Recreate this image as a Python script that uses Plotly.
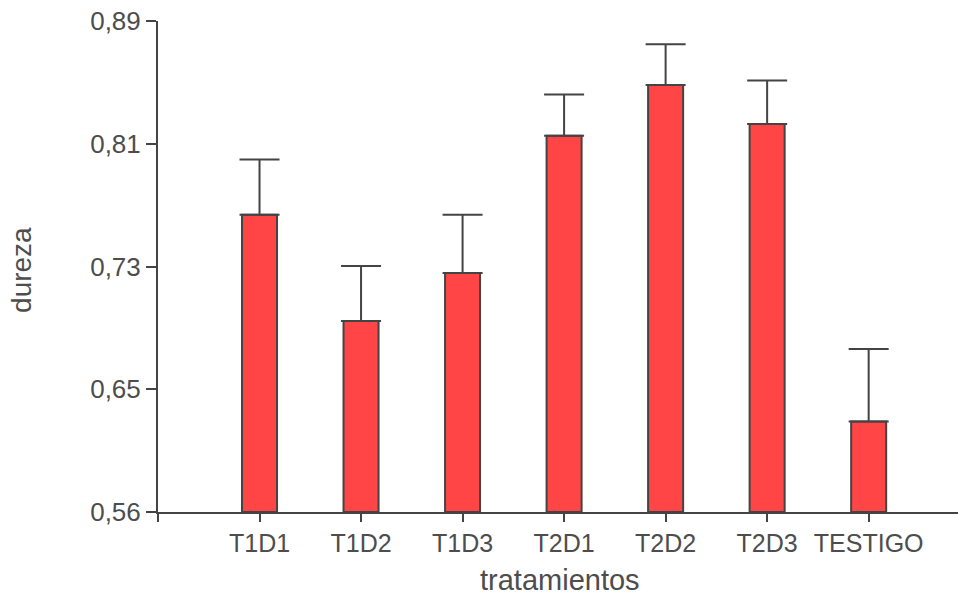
import plotly.graph_objects as go

categories = ["T1D1", "T1D2", "T1D3", "T2D1", "T2D2", "T2D3", "TESTIGO"]
means = [0.7597, 0.6883, 0.7207, 0.8128, 0.8470, 0.8208, 0.6209]
errors = [0.0372, 0.0371, 0.0390, 0.0278, 0.0273, 0.0292, 0.0486]
y_tick_vals = [0.56, 0.6425, 0.725, 0.8075, 0.89]
y_tick_text = ["0,56", "0,65", "0,73", "0,81", "0,89"]

positions = list(range(len(categories)))
axis_col = "#444444"
text_col = "#4d4d4d"
font_fam = "Liberation Sans, Arial, sans-serif"

fig = go.Figure()
fig.add_trace(go.Bar(
    x=positions, y=[m - 0.56 for m in means], base=0.56,
    width=0.345,
    marker=dict(color="#FF4545", line=dict(color=axis_col, width=2)),
    error_y=dict(type="data", array=errors, arrayminus=[0] * len(errors),
                 symmetric=False, color=axis_col, thickness=2, width=20),
    hoverinfo="skip",
))

fig.update_layout(
    width=958, height=598,
    margin=dict(l=158, r=0, t=21, b=86),
    paper_bgcolor="white", plot_bgcolor="white",
    showlegend=False,
    font=dict(family=font_fam, color=text_col),
    annotations=[
        dict(text="dureza", xref="paper", yref="paper", x=-0.17, y=0.493,
             textangle=-90, showarrow=False, xanchor="center", yanchor="middle",
             font=dict(size=28, color=text_col, family=font_fam)),
        dict(text="tratamientos", xref="paper", yref="paper", x=0.5025, y=-0.1385,
             showarrow=False, xanchor="center", yanchor="middle",
             font=dict(size=29, color=text_col, family=font_fam)),
    ],
)
fig.update_xaxes(
    range=[-1, 6.88], automargin=False,
    tickvals=[-1] + positions, ticktext=[""] + categories,
    showgrid=False, zeroline=False,
    showline=True, linecolor=axis_col, linewidth=2,
    ticks="outside", ticklen=8, tickwidth=2, tickcolor=axis_col,
    tickfont=dict(size=25, color=text_col, family=font_fam),
)
fig.update_yaxes(
    range=[0.56, 0.89], automargin=False,
    tickvals=y_tick_vals, ticktext=y_tick_text,
    showgrid=False, zeroline=False,
    showline=True, linecolor=axis_col, linewidth=2,
    ticks="outside", ticklen=10, tickwidth=2, tickcolor=axis_col,
    tickfont=dict(size=26, color=text_col, family=font_fam),
)

fig.write_html(
    "out.html",
    config={"displayModeBar": False},
    post_script="document.body.style.margin='0';document.body.style.overflow='hidden';",
)
